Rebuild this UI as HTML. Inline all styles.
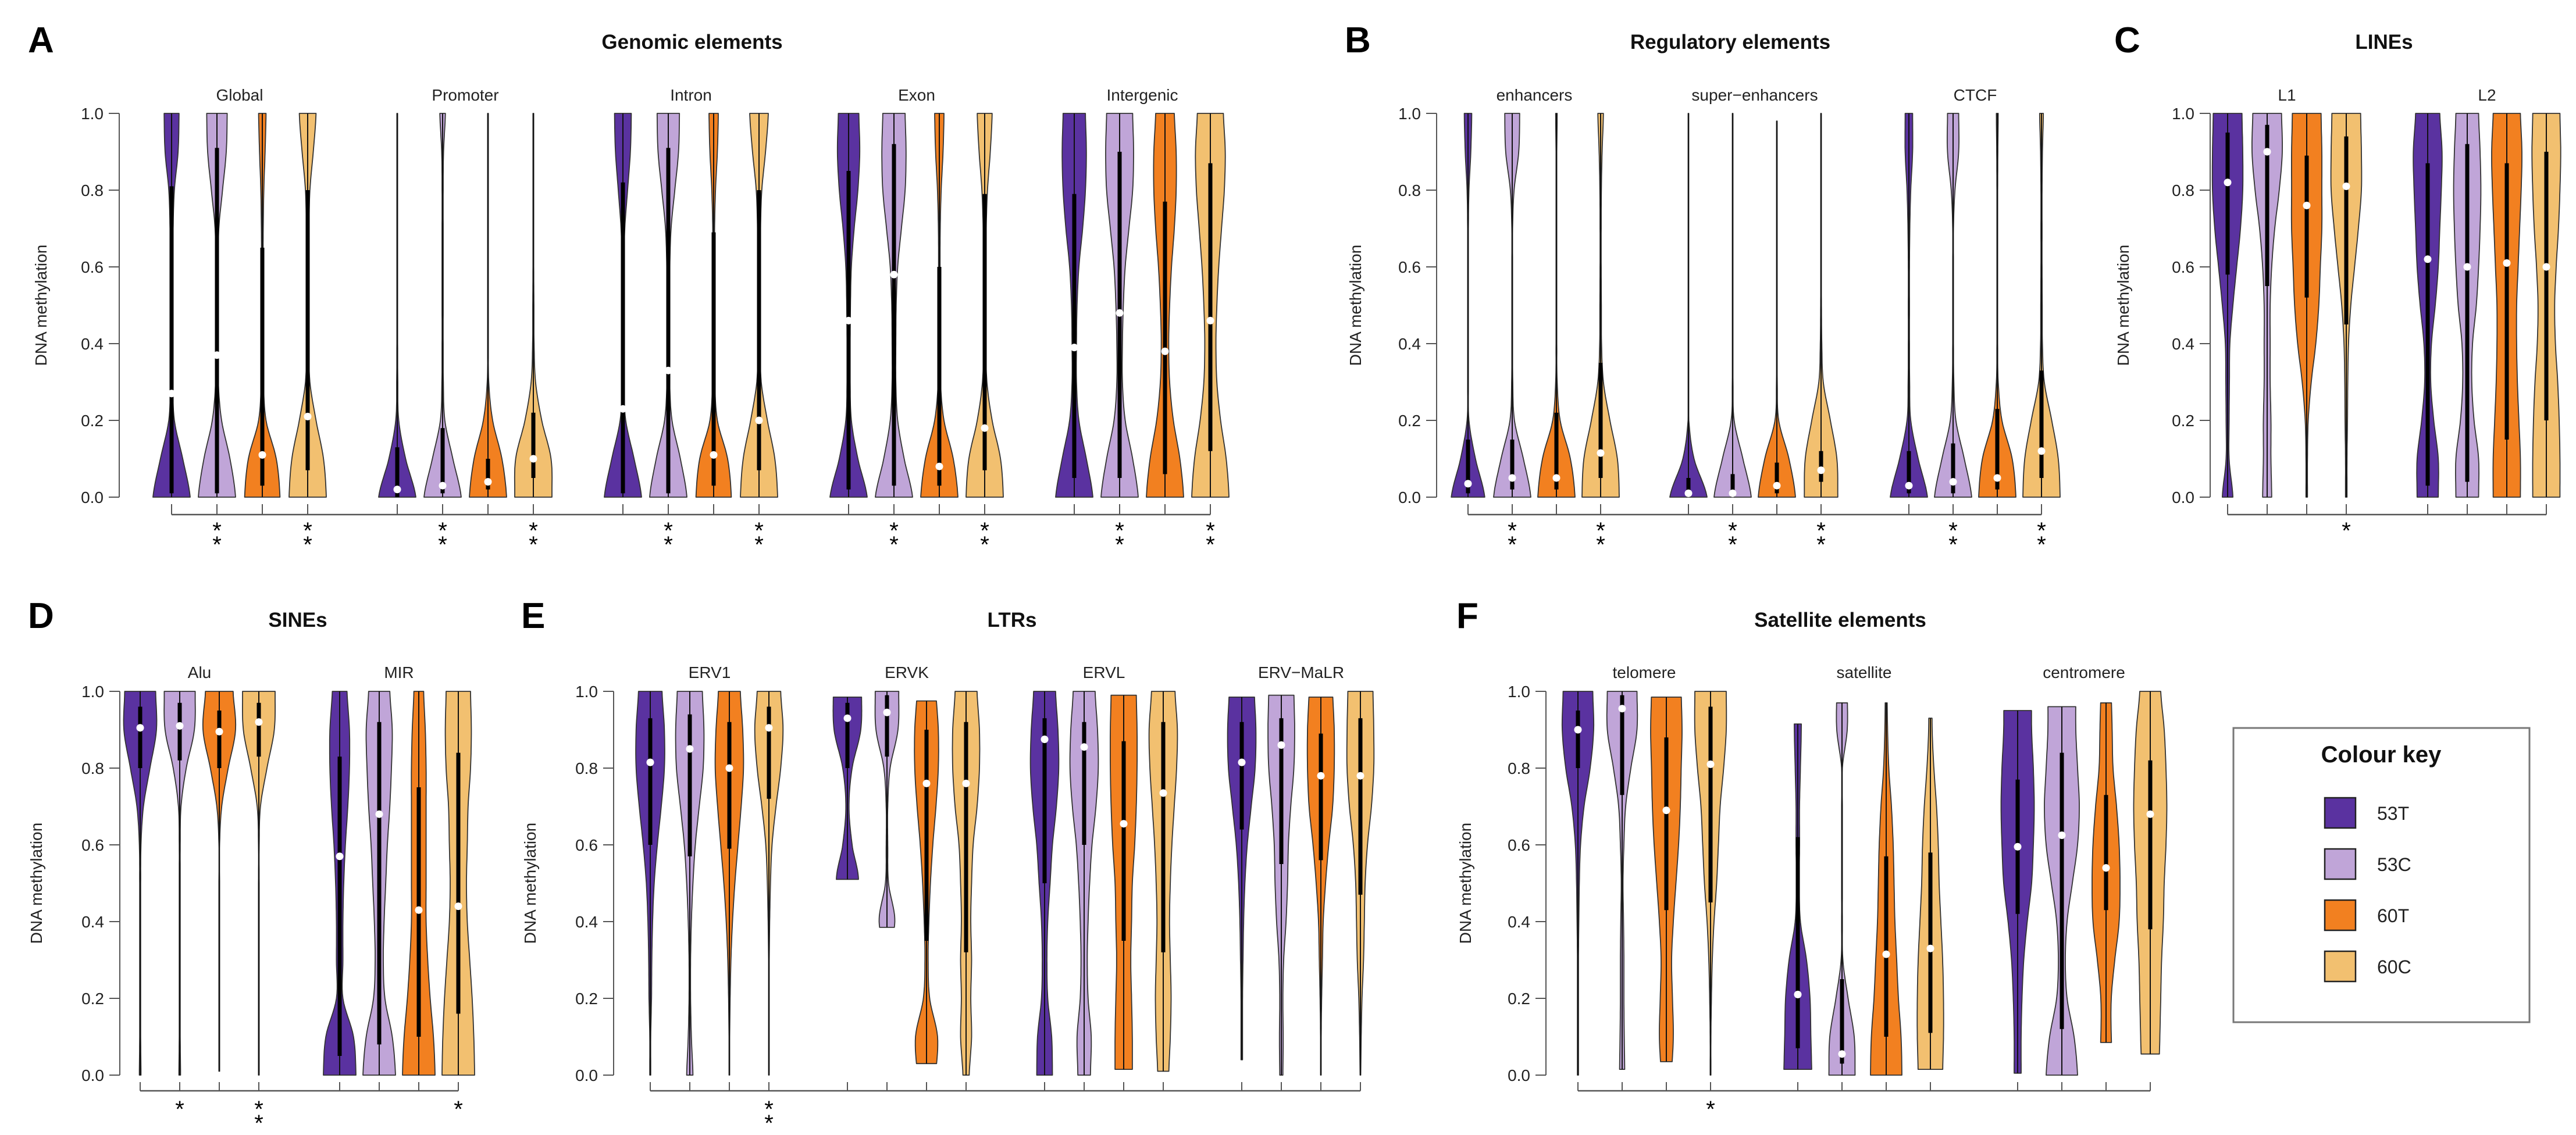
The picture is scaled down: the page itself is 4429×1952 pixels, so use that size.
<!DOCTYPE html>
<html><head><meta charset="utf-8"><title>DNA methylation violins</title>
<style>
html,body{margin:0;padding:0;background:#fff;}
svg{display:block;font-family:"Liberation Sans",Arial,sans-serif;}
</style></head>
<body>
<svg id="fig" xmlns="http://www.w3.org/2000/svg" width="4429" height="1952" viewBox="0 0 4429 1952">
<rect x="0" y="0" width="4429" height="1952" fill="#fff"/>
<g>
<rect x="3840" y="1252" width="509" height="506" fill="#fff" stroke="#777" stroke-width="3"/>
<text x="4094" y="1311" font-size="40" font-weight="bold" text-anchor="middle" fill="#111">Colour key</text>
<g><rect x="3997" y="1372" width="53" height="52" fill="#5a32a0" stroke="#222" stroke-width="2.5"/><text x="4087" y="1410" font-size="32" fill="#222">53T</text></g>
<g><rect x="3997" y="1460" width="53" height="52" fill="#c0a5d8" stroke="#222" stroke-width="2.5"/><text x="4087" y="1498" font-size="32" fill="#222">53C</text></g>
<g><rect x="3997" y="1548" width="53" height="52" fill="#f28020" stroke="#222" stroke-width="2.5"/><text x="4087" y="1586" font-size="32" fill="#222">60T</text></g>
<g><rect x="3997" y="1636" width="53" height="52" fill="#f2c070" stroke="#222" stroke-width="2.5"/><text x="4087" y="1674" font-size="32" fill="#222">60C</text></g>
</g>
</svg>
<script>
// ---------- DATA ----------
const seriesNames = ['53T','53C','60T','60C'];
const yTicks = [0,0.2,0.4,0.6,0.8,1.0];
const yTickLabels = ['0.0','0.2','0.4','0.6','0.8','1.0'];

// Panel A
const A_categories = ['Global','Promoter','Intron','Exon','Intergenic'];
const A_density = [
[1.0,0.6,0.15,0.06,0.05,0.05,0.05,0.08,0.15,0.35,0.4],
[1.0,0.7,0.25,0.07,0.05,0.05,0.06,0.1,0.3,0.5,0.55],
[0.95,0.75,0.2,0.06,0.04,0.04,0.04,0.05,0.08,0.15,0.2],
[1.0,0.85,0.45,0.12,0.06,0.05,0.05,0.07,0.12,0.3,0.45],
[1.0,0.45,0.08,0.03,0.02,0.02,0.02,0.02,0.02,0.02,0.02],
[1.0,0.55,0.12,0.04,0.03,0.03,0.03,0.03,0.03,0.05,0.15],
[1.0,0.75,0.25,0.04,0.02,0.02,0.02,0.02,0.02,0.02,0.02],
[1.0,0.95,0.45,0.12,0.04,0.03,0.02,0.02,0.02,0.02,0.02],
[1.0,0.6,0.15,0.05,0.04,0.04,0.05,0.1,0.25,0.4,0.45],
[1.0,0.65,0.2,0.07,0.05,0.06,0.08,0.15,0.35,0.55,0.6],
[0.95,0.75,0.2,0.06,0.04,0.04,0.04,0.05,0.1,0.2,0.25],
[1.0,0.85,0.45,0.12,0.06,0.05,0.06,0.08,0.15,0.35,0.5],
[1.0,0.5,0.15,0.08,0.08,0.1,0.15,0.3,0.5,0.6,0.55],
[1.0,0.55,0.2,0.1,0.1,0.12,0.2,0.4,0.6,0.65,0.6],
[1.0,0.75,0.25,0.06,0.04,0.04,0.04,0.05,0.1,0.2,0.25],
[1.0,0.85,0.4,0.12,0.06,0.05,0.06,0.08,0.15,0.3,0.4],
[1.0,0.65,0.25,0.12,0.12,0.15,0.25,0.45,0.6,0.65,0.6],
[1.0,0.7,0.3,0.15,0.15,0.2,0.3,0.5,0.7,0.75,0.7],
[1.0,0.8,0.45,0.25,0.2,0.25,0.35,0.5,0.6,0.6,0.5],
[1.0,0.85,0.55,0.35,0.3,0.35,0.45,0.6,0.75,0.8,0.7]];
const A_median = [0.27,0.37,0.11,0.21, 0.02,0.03,0.04,0.10, 0.23,0.33,0.11,0.20, 0.46,0.58,0.08,0.18, 0.39,0.48,0.38,0.46];
const A_q1 = [0.01,0.01,0.03,0.07, 0.0,0.01,0.02,0.05, 0.01,0.01,0.03,0.07, 0.02,0.03,0.03,0.07, 0.05,0.05,0.06,0.12];
const A_q3 = [0.81,0.91,0.65,0.80, 0.13,0.18,0.10,0.22, 0.82,0.91,0.69,0.80, 0.85,0.92,0.60,0.79, 0.79,0.90,0.77,0.87];
const A_min = [0,0,0,0, 0,0,0,0, 0,0,0,0, 0,0,0,0, 0,0,0,0];
const A_max = [1,1,1,1, 1,1,1,1, 1,1,1,1, 1,1,1,1, 1,1,1,1];
const A_stars = [0,2,0,2, 0,2,0,2, 0,2,0,2, 0,2,0,2, 0,2,0,2];

// Panel B
const B_categories = ['enhancers','super\u2212enhancers','CTCF'];
const B_density = [
[0.9,0.4,0.05,0.02,0.02,0.02,0.02,0.02,0.05,0.15,0.2],
[1.0,0.6,0.12,0.03,0.02,0.02,0.02,0.02,0.1,0.35,0.4],
[1.0,0.75,0.2,0.04,0.02,0.02,0.02,0.02,0.02,0.02,0.04],
[1.0,0.9,0.5,0.15,0.05,0.04,0.03,0.03,0.04,0.08,0.15],
[1.0,0.3,0.02,0.01,0.01,0.01,0.01,0.01,0.01,0.01,0.01],
[1.0,0.55,0.08,0.02,0.01,0.01,0.01,0.01,0.01,0.01,0.01],
[1.0,0.65,0.1,0.02,0.01,0.01,0.01,0.01,0.01,0.01,0.01],
[0.9,0.85,0.5,0.12,0.04,0.02,0.01,0.01,0.01,0.01,0.01],
[1.0,0.5,0.1,0.04,0.03,0.03,0.03,0.05,0.1,0.2,0.2],
[1.0,0.6,0.15,0.04,0.02,0.02,0.02,0.02,0.1,0.3,0.3],
[1.0,0.8,0.25,0.05,0.02,0.02,0.02,0.02,0.02,0.03,0.05],
[1.0,0.9,0.55,0.15,0.05,0.04,0.03,0.03,0.03,0.05,0.1]];
const B_median = [0.035,0.05,0.05,0.115, 0.01,0.01,0.03,0.07, 0.03,0.04,0.05,0.12];
const B_q1 = [0.01,0.02,0.02,0.05, 0.0,0.0,0.01,0.04, 0.01,0.01,0.02,0.05];
const B_q3 = [0.15,0.15,0.22,0.35, 0.05,0.06,0.09,0.12, 0.12,0.14,0.23,0.33];
const B_min = [0,0,0,0, 0,0,0,0, 0,0,0,0];
const B_max = [1,1,1,1, 1,1,0.98,1, 1,1,1,1];
const B_stars = [0,2,0,2, 0,2,0,2, 0,2,0,2];

// Panel C
const C_categories = ['L1','L2'];
const C_density = [
[0.35,0.1,0.1,0.12,0.15,0.35,0.6,0.85,1.0,1.0,0.95],
[0.3,0.25,0.25,0.2,0.2,0.2,0.3,0.5,0.8,1.0,0.95],
[0.05,0.05,0.1,0.3,0.6,0.8,0.9,1.0,1.0,1.0,0.95],
[0.05,0.05,0.08,0.1,0.15,0.3,0.55,0.8,1.0,1.0,0.95],
[0.7,0.7,0.4,0.2,0.25,0.5,0.7,0.8,0.9,0.95,0.8],
[0.75,0.75,0.45,0.3,0.35,0.6,0.75,0.85,0.9,0.85,0.75],
[0.9,0.9,0.8,0.7,0.65,0.65,0.75,0.85,0.95,1.0,0.9],
[0.9,0.9,0.85,0.75,0.6,0.55,0.65,0.8,0.9,0.95,0.9]];
const C_median = [0.82,0.90,0.76,0.81, 0.62,0.60,0.61,0.60];
const C_q1 = [0.58,0.55,0.52,0.45, 0.03,0.04,0.15,0.20];
const C_q3 = [0.95,0.97,0.89,0.94, 0.87,0.92,0.87,0.90];
const C_min = [0,0,0,0, 0,0,0,0];
const C_max = [1,1,1,1, 1,1,1,1];
const C_stars = [0,0,0,1, 0,0,0,0];

// Panel D
const D_categories = ['Alu','MIR'];
const D_density = [
[0.05,0.03,0.03,0.03,0.03,0.03,0.05,0.2,0.6,1.0,0.95],
[0.05,0.03,0.03,0.03,0.03,0.03,0.03,0.08,0.4,0.9,0.95],
[0.02,0.02,0.02,0.02,0.02,0.02,0.02,0.15,0.55,1.0,0.85],
[0.02,0.02,0.02,0.02,0.02,0.02,0.02,0.1,0.5,0.95,1.0],
[1.0,0.85,0.2,0.2,0.2,0.25,0.35,0.5,0.6,0.6,0.45],
[1.0,0.8,0.35,0.25,0.3,0.4,0.5,0.65,0.75,0.8,0.65],
[1.0,0.9,0.7,0.55,0.45,0.45,0.45,0.45,0.45,0.4,0.3],
[1.0,0.95,0.85,0.7,0.55,0.5,0.55,0.6,0.75,0.8,0.75]];
const D_median = [0.905,0.91,0.895,0.92, 0.57,0.68,0.43,0.44];
const D_q1 = [0.80,0.82,0.80,0.83, 0.05,0.08,0.10,0.16];
const D_q3 = [0.96,0.97,0.95,0.97, 0.83,0.92,0.75,0.84];
const D_min = [0,0,0.01,0, 0,0,0,0];
const D_max = [1,1,1,1, 1,1,1,1];
const D_stars = [0,1,0,2, 0,0,0,1];

// Panel E
const E_categories = ['ERV1','ERVK','ERVL','ERV\u2212MaLR'];
const E_density = [
[0.03,0.03,0.08,0.1,0.15,0.25,0.45,0.7,0.9,0.9,0.75],
[0.2,0.1,0.05,0.05,0.1,0.2,0.35,0.6,0.85,0.9,0.8],
[0.02,0.02,0.05,0.1,0.2,0.35,0.55,0.75,0.9,0.85,0.7],
[0.02,0.02,0.02,0.02,0.05,0.1,0.2,0.45,0.75,0.9,0.75],
[0,0,0,0,0,0.7,0.3,0.1,0.3,0.85,0.9],
[0,0,0,0,0.5,0.1,0.05,0.05,0.2,0.7,0.75],
[0.6,0.7,0.2,0.1,0.15,0.25,0.4,0.6,0.75,0.75,0.6],
[0.2,0.35,0.3,0.35,0.3,0.35,0.45,0.7,0.85,0.85,0.7],
[0.5,0.45,0.2,0.15,0.2,0.35,0.5,0.75,0.9,0.85,0.7],
[0.4,0.45,0.25,0.2,0.25,0.35,0.5,0.75,0.9,0.85,0.7],
[0.55,0.55,0.5,0.45,0.5,0.55,0.7,0.8,0.85,0.85,0.8],
[0.35,0.45,0.5,0.45,0.4,0.45,0.55,0.7,0.85,0.9,0.75],
[0.05,0.05,0.05,0.08,0.12,0.2,0.35,0.6,0.85,0.9,0.8],
[0.1,0.12,0.1,0.15,0.3,0.4,0.45,0.6,0.8,0.85,0.8],
[0.02,0.02,0.05,0.1,0.15,0.3,0.5,0.75,0.85,0.85,0.75],
[0.02,0.05,0.1,0.2,0.25,0.3,0.45,0.7,0.85,0.85,0.8]];
const E_median = [0.815,0.85,0.80,0.905, 0.93,0.945,0.76,0.76, 0.875,0.855,0.655,0.735, 0.815,0.86,0.78,0.78];
const E_q1 = [0.60,0.57,0.59,0.72, 0.80,0.83,0.35,0.32, 0.50,0.60,0.35,0.32, 0.64,0.55,0.56,0.47];
const E_q3 = [0.93,0.94,0.92,0.96, 0.97,0.99,0.90,0.92, 0.93,0.92,0.87,0.92, 0.92,0.93,0.89,0.93];
const E_min = [0,0,0,0, 0.51,0.385,0.03,0, 0,0,0.015,0.01, 0.04,0,0,0];
const E_max = [1,1,1,1, 0.985,1,0.975,1, 1,1,0.99,1, 0.985,0.99,0.985,1];
const E_stars = [0,0,0,2, 0,0,0,0, 0,0,0,0, 0,0,0,0];

// Panel F
const F_categories = ['telomere','satellite','centromere'];
const F_density = [
[0.03,0.03,0.03,0.03,0.05,0.08,0.15,0.35,0.7,0.9,0.85],
[0.15,0.12,0.1,0.1,0.08,0.05,0.1,0.2,0.5,0.85,0.85],
[0.3,0.4,0.35,0.3,0.4,0.55,0.7,0.8,0.85,0.9,0.85],
[0.02,0.02,0.05,0.1,0.2,0.35,0.45,0.55,0.75,0.9,0.9],
[0.8,0.75,0.7,0.5,0.15,0.08,0.1,0.1,0.15,0.2,0.2],
[0.75,0.7,0.35,0.05,0.02,0.02,0.02,0.02,0.02,0.3,0.3],
[0.9,0.85,0.7,0.6,0.5,0.45,0.4,0.3,0.15,0.08,0.05],
[0.7,0.75,0.75,0.7,0.6,0.5,0.45,0.35,0.2,0.1,0.1],
[0.2,0.2,0.25,0.35,0.55,0.8,0.9,0.95,0.9,0.8,0.8],
[0.9,0.7,0.3,0.2,0.3,0.6,0.9,1.0,0.9,0.8,0.8],
[0.4,0.3,0.3,0.5,0.75,0.8,0.75,0.6,0.4,0.35,0.3],
[0.5,0.55,0.6,0.65,0.75,0.8,0.9,0.95,0.9,0.8,0.6]];
const F_median = [0.90,0.955,0.69,0.81, 0.21,0.055,0.315,0.33, 0.595,0.625,0.54,0.68];
const F_q1 = [0.80,0.73,0.43,0.45, 0.07,0.03,0.10,0.11, 0.42,0.12,0.43,0.38];
const F_q3 = [0.95,0.99,0.88,0.96, 0.62,0.25,0.57,0.58, 0.77,0.84,0.73,0.82];
const F_min = [0,0.015,0.035,0, 0.015,0,0,0.015, 0.005,0,0.085,0.055];
const F_max = [1,1,0.985,1, 0.915,0.97,0.97,0.93, 0.95,0.96,0.97,1.0];
const F_stars = [0,0,0,1, 0,0,0,0, 0,0,0,0];

// ---------- LAYOUT ----------
const fills = ['#5a32a0','#c0a5d8','#f28020','#f2c070'];
const rows = [
 {y0:855,y1:195,brY:885,tkTop:867,star1:926,star2:950,grpY:173,titleY:84,letterY:90},
 {y0:1849,y1:1189,brY:1876,tkTop:1861,star1:1921,star2:1945,grpY:1166,titleY:1078,letterY:1080}
];
const layout = [
 {id:'A',title:'Genomic elements',titleX:1190,letterX:48,axisX:205,ylabX:80,start:295,groupGap:388,step:78,W:32,row:0,cat:A_categories,dens:A_density,med:A_median,q1:A_q1,q3:A_q3,mn:A_min,mx:A_max,stars:A_stars},
 {id:'B',title:'Regulatory elements',titleX:2975,letterX:2312,axisX:2470,ylabX:2340,start:2524,groupGap:379,step:76,W:32,row:0,cat:B_categories,dens:B_density,med:B_median,q1:B_q1,q3:B_q3,mn:B_min,mx:B_max,stars:B_stars},
 {id:'C',title:'LINEs',titleX:4099,letterX:3635,axisX:3800,ylabX:3660,start:3830,groupGap:344,step:68,W:26,row:0,cat:C_categories,dens:C_density,med:C_median,q1:C_q1,q3:C_q3,mn:C_min,mx:C_max,stars:C_stars},
 {id:'D',title:'SINEs',titleX:512,letterX:48,axisX:206,ylabX:72,start:241,groupGap:343,step:68,W:28,row:1,cat:D_categories,dens:D_density,med:D_median,q1:D_q1,q3:D_q3,mn:D_min,mx:D_max,stars:D_stars},
 {id:'E',title:'LTRs',titleX:1740,letterX:896,axisX:1055,ylabX:921,start:1118,groupGap:339,step:68,W:27,row:1,cat:E_categories,dens:E_density,med:E_median,q1:E_q1,q3:E_q3,mn:E_min,mx:E_max,stars:E_stars},
 {id:'F',title:'Satellite elements',titleX:3164,letterX:2504,axisX:2658,ylabX:2529,start:2713,groupGap:378,step:76,W:30,row:1,cat:F_categories,dens:F_density,med:F_median,q1:F_q1,q3:F_q3,mn:F_min,mx:F_max,stars:F_stars}
];

const NS='http://www.w3.org/2000/svg';
const svg=document.getElementById('fig');
function mk(tag,attrs,parent){const e=document.createElementNS(NS,tag);for(const k in attrs)e.setAttribute(k,attrs[k]);(parent||svg).appendChild(e);return e;}
function densAt(p,v){const t=Math.max(0,Math.min(10,v*10));let i=Math.min(9,Math.floor(t));const f=t-i;
 const p0=p[Math.max(0,i-1)],p1=p[i],p2=p[i+1],p3=p[Math.min(10,i+2)];
 const r=0.5*((2*p1)+(-p0+p2)*f+(2*p0-5*p1+4*p2-p3)*f*f+(-p0+3*p1-3*p2+p3)*f*f*f);
 return Math.max(0.015,Math.min(1.05,r));}

layout.forEach(P=>{
 const R=rows[P.row];
 const yS=v=>R.y0+(R.y1-R.y0)*v;
 const g=mk('g',{});
 
 
 const L=mk('text',{x:P.letterX,y:R.letterY,'font-size':62,'font-weight':'bold',fill:'#000'},g);
 L.textContent=P.id;
 
 
 const T=mk('text',{x:P.titleX,y:R.titleY,'font-size':35,'font-weight':'bold','text-anchor':'middle',fill:'#111'},g);
 T.textContent=P.title;
 
 
 // y axis
 const ax=mk('g',{},g);
 
 
 mk('line',{x1:P.axisX,x2:P.axisX,y1:yS(0),y2:yS(1),stroke:'#555','stroke-width':2},ax);
 yTicks.forEach((t,i)=>{
  mk('line',{x1:P.axisX-18,x2:P.axisX,y1:yS(t),y2:yS(t),stroke:'#555','stroke-width':2},ax);
  const tl=mk('text',{x:P.axisX-27,y:yS(t)+10,'font-size':28,'text-anchor':'end',fill:'#222'},ax);
  tl.textContent=yTickLabels[i];
  
  
 });
 const yc=(yS(0)+yS(1))/2;
 const yl=mk('text',{x:P.ylabX,y:yc,'font-size':28,'text-anchor':'middle',fill:'#222',transform:'rotate(-90 '+P.ylabX+' '+yc+')'},ax);
 yl.textContent='DNA methylation';
 
 
 // violins
 const xs=[];
 P.cat.forEach((c,gi)=>{
  const gx=P.start+gi*P.groupGap;
  const gl=mk('text',{x:gx+1.5*P.step,y:R.grpY,'font-size':28,'text-anchor':'middle',fill:'#222'},g);
  gl.textContent=c;
  
  
  for(let s=0;s<4;s++){
   const k=gi*4+s;const cx=gx+s*P.step;xs.push(cx);
   const vg=mk('g',{},g);
   
   
   const lo=P.mn[k],hi=P.mx[k],N=80;const L2=[],Rr=[];
   for(let j=0;j<=N;j++){const v=lo+(hi-lo)*j/N;const w=densAt(P.dens[k],v)*P.W;
    Rr.push((cx+w).toFixed(1)+','+yS(v).toFixed(1));L2.push((cx-w).toFixed(1)+','+yS(v).toFixed(1));}
   const d='M'+Rr.join(' L')+' L'+L2.reverse().join(' L')+' Z';
   mk('path',{d:d,fill:fills[s],stroke:'#333','stroke-width':1.8,'stroke-linejoin':'round'},vg);
   mk('line',{x1:cx,x2:cx,y1:yS(lo),y2:yS(hi),stroke:'#111','stroke-width':2},vg);
   mk('line',{x1:cx,x2:cx,y1:yS(P.q1[k]),y2:yS(P.q3[k]),stroke:'#000','stroke-width':7},vg);
   mk('circle',{cx:cx,cy:yS(P.med[k]),r:6.5,fill:'#fff'},vg);
   // stars
   const n=P.stars[k];
   for(let q=0;q<n;q++){
    const st=mk('text',{x:cx,y:q===0?R.star1:R.star2,'font-size':40,'text-anchor':'middle',fill:'#000'},g);
    st.textContent='*';
    
    
   }
  }
 });
 // bracket
 const br=mk('g',{},g);
 
 
 mk('line',{x1:xs[0],x2:xs[xs.length-1],y1:R.brY,y2:R.brY,stroke:'#555','stroke-width':2.5},br);
 xs.forEach(x=>mk('line',{x1:x,x2:x,y1:R.tkTop,y2:R.brY,stroke:'#555','stroke-width':2},br));
});
</script>
</body></html>
